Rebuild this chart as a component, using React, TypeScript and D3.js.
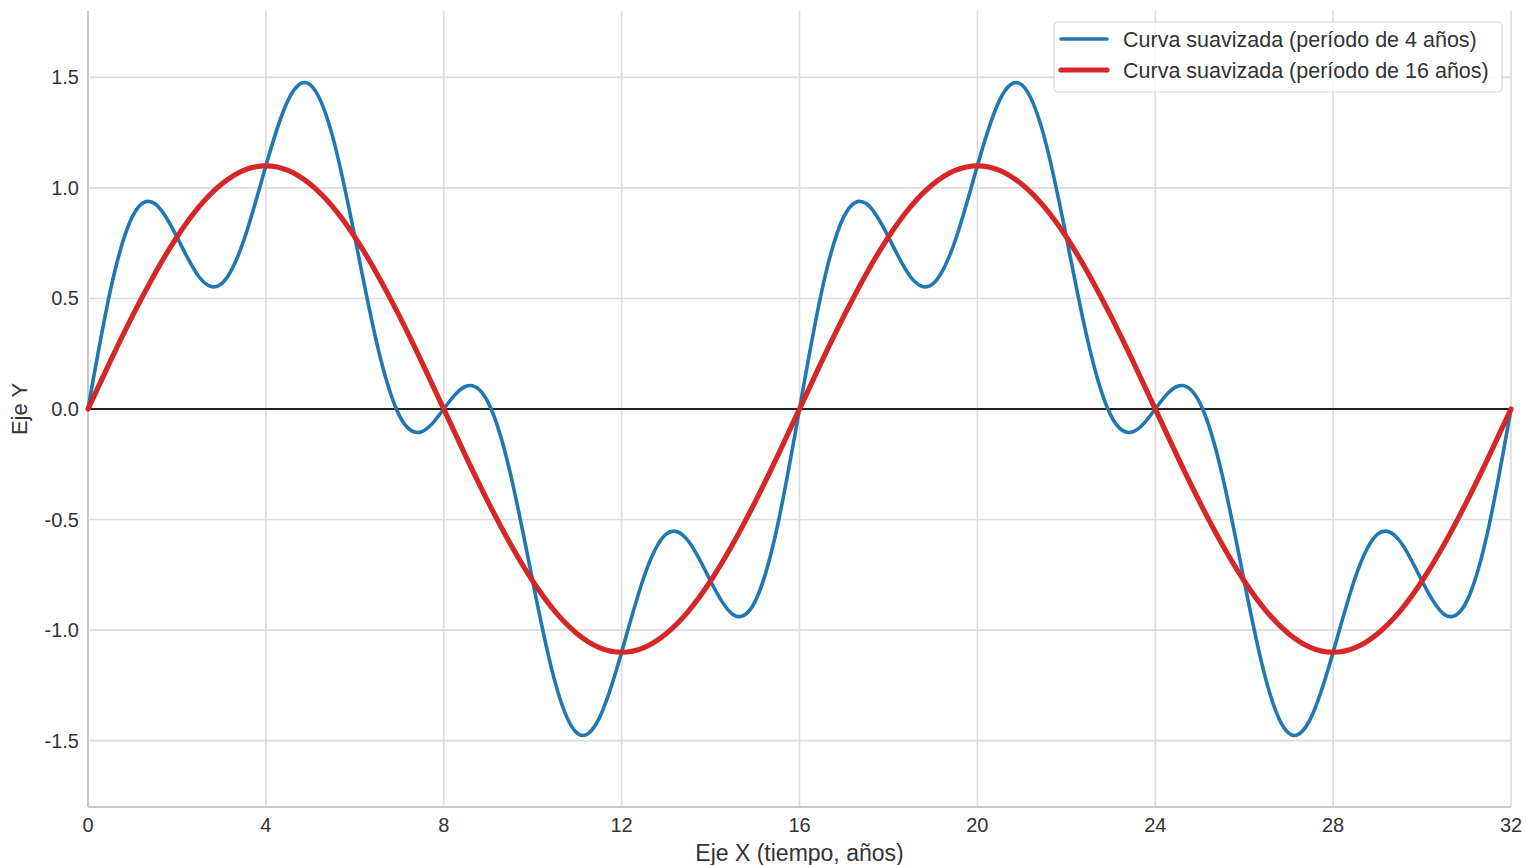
import React from 'react';
import * as d3 from 'd3';

// tiempo (años), paso de 0.5
const xs: number[] = d3.range(0, 32.01, 0.5);

// curva suavizada, período de 4 años
const blueVals: number[] = [
  0, 0.533, 0.871, 0.929, 0.778, 0.597, 0.566, 0.761, 1.1, 1.397, 1.466, 1.233, 0.778, 0.293, -0.029, -0.103,
  0, 0.103, 0.029, -0.293, -0.778, -1.233, -1.466, -1.397, -1.1, -0.761, -0.566, -0.597, -0.778, -0.929, -0.871, -0.533,
  0, 0.533, 0.871, 0.929, 0.778, 0.597, 0.566, 0.761, 1.1, 1.397, 1.466, 1.233, 0.778, 0.293, -0.029, -0.103,
  0, 0.103, 0.029, -0.293, -0.778, -1.233, -1.466, -1.397, -1.1, -0.761, -0.566, -0.597, -0.778, -0.929, -0.871, -0.533,
  0,
];

// curva suavizada, período de 16 años
const redVals: number[] = [
  0, 0.215, 0.421, 0.611, 0.778, 0.915, 1.016, 1.079, 1.1, 1.079, 1.016, 0.915, 0.778, 0.611, 0.421, 0.215,
  0, -0.215, -0.421, -0.611, -0.778, -0.915, -1.016, -1.079, -1.1, -1.079, -1.016, -0.915, -0.778, -0.611, -0.421, -0.215,
  0, 0.215, 0.421, 0.611, 0.778, 0.915, 1.016, 1.079, 1.1, 1.079, 1.016, 0.915, 0.778, 0.611, 0.421, 0.215,
  0, -0.215, -0.421, -0.611, -0.778, -0.915, -1.016, -1.079, -1.1, -1.079, -1.016, -0.915, -0.778, -0.611, -0.421, -0.215,
  0,
];

const xTicks = [0, 4, 8, 12, 16, 20, 24, 28, 32];
const yTicks = [-1.5, -1.0, -0.5, 0.0, 0.5, 1.0, 1.5];

const series = [
  { label: 'Curva suavizada (período de 4 años)', values: blueVals, color: '#1f77b4', width: 3.6 },
  { label: 'Curva suavizada (período de 16 años)', values: redVals, color: '#d62728', width: 5.2 },
];

const W = 1526;
const H = 865;
const margin = { top: 11, right: 15, bottom: 58, left: 88 };
const font = '"Liberation Sans", Arial, sans-serif';

export default function App() {
  const x = d3.scaleLinear().domain([0, 32]).range([margin.left, W - margin.right]);
  const y = d3.scaleLinear().domain([-1.8, 1.8]).range([H - margin.bottom, margin.top]);

  const line = d3
    .line<number>()
    .x((_, i) => x(xs[i]))
    .y((d) => y(d))
    .curve(d3.curveNatural);

  const x0 = x(0), x1 = x(32), yTop = y(1.8), yBot = y(-1.8);

  return (
    <svg
      width={W}
      height={H}
      style={{ position: 'absolute', left: 0, top: 0, background: '#fff', fontFamily: font }}
    >
      {/* rejilla */}
      {xTicks.map((t) => (
        <line key={'gx' + t} x1={x(t)} x2={x(t)} y1={yTop} y2={yBot} stroke="#dcdcdc" strokeWidth={1.6} />
      ))}
      {yTicks.map((t) => (
        <line key={'gy' + t} x1={x0} x2={x1} y1={y(t)} y2={y(t)} stroke="#dcdcdc" strokeWidth={1.6} />
      ))}
      {/* ejes */}
      <line x1={x0} x2={x0} y1={yTop} y2={yBot} stroke="#c8c8c8" strokeWidth={2} />
      <line x1={x0} x2={x1} y1={yBot} y2={yBot} stroke="#c8c8c8" strokeWidth={2} />
      <line x1={x0} x2={x1} y1={y(0)} y2={y(0)} stroke="#222" strokeWidth={2} />

      {xTicks.map((t) => (
        <text key={'tx' + t} x={x(t)} y={yBot + 25} textAnchor="middle" fontSize={20} fill="#333">
          {t}
        </text>
      ))}
      {yTicks.map((t) => (
        <text key={'ty' + t} x={x0 - 9} y={y(t) + 7} textAnchor="end" fontSize={20} fill="#333">
          {t.toFixed(1)}
        </text>
      ))}

      <text x={(x0 + x1) / 2} y={H - 4} textAnchor="middle" fontSize={23} fill="#333">
        Eje X (tiempo, años)
      </text>
      <text
        transform={`translate(27,${y(0)}) rotate(-90)`}
        textAnchor="middle"
        fontSize={22}
        fill="#333"
      >
        Eje Y
      </text>

      {/* curvas */}
      {series.map((s) => (
        <path
          key={s.label}
          d={line(s.values) || ''}
          fill="none"
          stroke={s.color}
          strokeWidth={s.width}
          strokeLinejoin="round"
          strokeLinecap="round"
        />
      ))}

      {/* leyenda */}
      <g transform="translate(1054,22)">
        <rect width={448} height={70} rx={4} fill="#fff" fillOpacity={0.85} stroke="#d8d8d8" strokeWidth={1.2} />
        {series.map((s, i) => (
          <g key={'lg' + i} transform={`translate(0,${17 + i * 31})`}>
            <line x1={7} x2={53} y1={0} y2={0} stroke={s.color} strokeWidth={s.width} strokeLinecap="round" />
            <text x={69} y={7.5} fontSize={21.5} fill="#333">
              {s.label}
            </text>
          </g>
        ))}
      </g>
    </svg>
  );
}
